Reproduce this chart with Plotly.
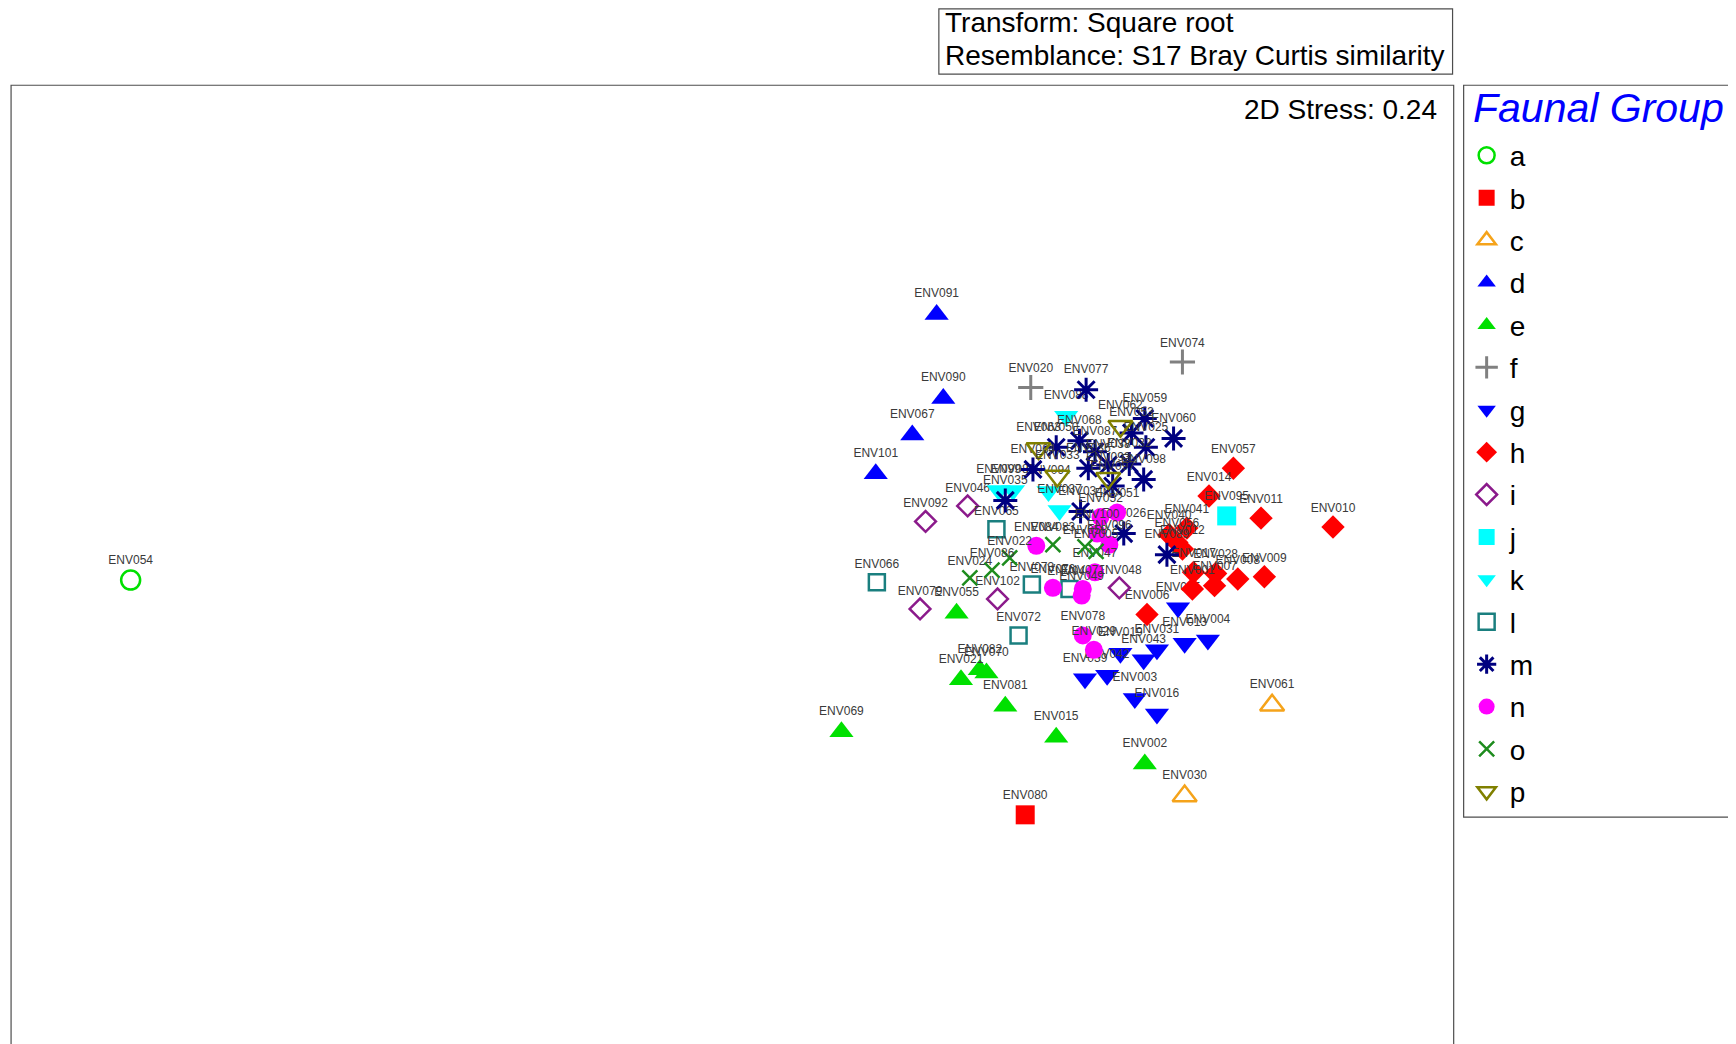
import plotly.graph_objects as go

# The page body adds an 8 px margin, so the figure is 8 px smaller than the window
W, H = 1728, 1036

# ---- data: nMDS coordinates (arbitrary MDS units) ----
sample_id = [
    "ENV054",
    "ENV080",
    "ENV061", "ENV030",
    "ENV091", "ENV090", "ENV067", "ENV101",
    "ENV069", "ENV015", "ENV002", "ENV081", "ENV021", "ENV082", "ENV070", "ENV055",
    "ENV020", "ENV074",
    "ENV045", "ENV013", "ENV004", "ENV031", "ENV043", "ENV003", "ENV016", "ENV039", "ENV042", "ENV019",
    "ENV057", "ENV014", "ENV011", "ENV010", "ENV041", "ENV040", "ENV056", "ENV012", "ENV028", "ENV008",
    "ENV009", "ENV017", "ENV001", "ENV007", "ENV006",
    "ENV092", "ENV046", "ENV079", "ENV102", "ENV048",
    "ENV095",
    "ENV099", "ENV085", "ENV088", "ENV094", "ENV037",
    "ENV066", "ENV065", "ENV072", "ENV073", "ENV044",
    "ENV077", "ENV059", "ENV060", "ENV053", "ENV025", "ENV050", "ENV068", "ENV087", "ENV032", "ENV038",
    "ENV036", "ENV098", "ENV064", "ENV097", "ENV035", "ENV034", "ENV026", "ENV089",
    "ENV084", "ENV076", "ENV071", "ENV047", "ENV100", "ENV096", "ENV052", "ENV051", "ENV049", "ENV078", "ENV029",
    "ENV024", "ENV086", "ENV022", "ENV083", "ENV058", "ENV005",
    "ENV063", "ENV033", "ENV062", "ENV093",
]
faunal_group = (
    ["a"] + ["b"] + ["c"] * 2 + ["d"] * 4 + ["e"] * 8 + ["f"] * 2 + ["g"] * 10 + ["h"] * 15
    + ["i"] * 5 + ["j"] + ["k"] * 5 + ["l"] * 5 + ["m"] * 18 + ["n"] * 11 + ["o"] * 6 + ["p"] * 4
)
mds1 = [
    1.18,
    9.26,
    11.49, 10.70,
    8.46, 8.52, 8.24, 7.91,
    7.60, 9.54, 10.34, 9.08, 8.68, 8.85, 8.91, 8.64,
    9.31, 10.68,
    10.64, 10.70, 10.91, 10.45, 10.33, 10.25, 10.45, 9.80, 10.00, 10.12,
    11.14, 10.92, 11.39, 12.04, 10.72, 10.56, 10.63, 10.68, 10.98, 11.18,
    11.42, 10.78, 10.77, 10.97, 10.36,
    8.36, 8.74, 8.31, 9.01, 10.11,
    11.08,
    9.02, 9.15, 9.63, 9.47, 9.57,
    7.92, 9.00, 9.20, 9.32, 9.66,
    9.81, 10.34, 10.60, 10.22, 10.35, 9.54, 9.75, 9.89, 10.20, 10.01,
    9.83, 10.33, 9.33, 10.05, 9.08, 9.76, 10.15, 10.54,
    9.36, 9.51, 9.78, 9.89, 9.91, 10.02, 9.94, 10.09, 9.77, 9.78, 9.88,
    8.76, 8.96, 9.12, 9.51, 9.80, 9.90,
    9.38, 9.55, 10.12, 10.01,
]
mds2 = [
    -5.24,
    -7.36,
    -6.37, -7.19,
    -2.84, -3.60, -3.93, -4.28,
    -6.61, -6.66, -6.90, -6.38, -6.14, -6.05, -6.08, -5.54,
    -3.50, -3.27,
    -5.49, -5.81, -5.78, -5.87, -5.96, -6.31, -6.45, -6.13, -6.10, -5.90,
    -4.23, -4.48, -4.68, -4.76, -4.77, -4.83, -4.90, -4.96, -5.18, -5.23,
    -5.21, -5.17, -5.32, -5.29, -5.55,
    -4.71, -4.57, -5.50, -5.41, -5.31,
    -4.66,
    -4.43, -4.43, -3.76, -4.44, -4.61,
    -5.26, -4.78, -5.74, -5.28, -5.32,
    -3.52, -3.78, -3.96, -3.91, -4.04, -4.04, -3.98, -4.08, -4.19, -4.20,
    -4.23, -4.33, -4.24, -4.39, -4.52, -4.62, -4.82, -5.01,
    -4.93, -5.31, -5.32, -5.17, -4.82, -4.92, -4.67, -4.63, -5.38, -5.74, -5.87,
    -5.22, -5.15, -5.04, -4.92, -4.94, -4.98,
    -4.05, -4.30, -3.85, -4.32,
]
group_order = list("abcdefghijklmnop")
legend_title = "Faunal Group"
stress_text = "2D Stress: 0.24"
info_lines = ["Transform: Square root", "Resemblance: S17 Bray Curtis similarity"]

# ---- styles ----
styles = {
    "a": dict(symbol="circle-open", color="#00e000", size=19, lw=2.5),
    "b": dict(symbol="square", color="#ff0000", size=19, lw=0),
    "c": dict(symbol="triangle-up-open", color="#f5a31a", size=21, lw=2.5),
    "d": dict(symbol="triangle-up", color="#0000ff", size=21, lw=0),
    "e": dict(symbol="triangle-up", color="#00e000", size=21, lw=0),
    "f": dict(symbol="cross-thin-open", color="#808080", size=18, lw=3),
    "g": dict(symbol="triangle-down", color="#0000ff", size=21, lw=0),
    "h": dict(symbol="diamond", color="#ff0000", size=18, lw=0),
    "i": dict(symbol="diamond-open", color="#8b1a8b", size=16, lw=2.5),
    "j": dict(symbol="square", color="#00ffff", size=19, lw=0),
    "k": dict(symbol="triangle-down", color="#00ffff", size=21, lw=0),
    "l": dict(symbol="square-open", color="#1a7f7f", size=16, lw=2.5),
    "m": dict(symbol="asterisk-open", color="#000080", size=20, lw=3),
    "n": dict(symbol="circle", color="#ff00ff", size=18, lw=0),
    "o": dict(symbol="x-thin-open", color="#1e8c1e", size=15, lw=2.5),
    "p": dict(symbol="triangle-down-open", color="#808000", size=21, lw=2.5),
}
FONT = "Liberation Sans, Arial, sans-serif"
FRAME = "#4d4d4d"

# reference picture (shrunk) spans 1568 x 943; body margin = 8 px full = 7.23 shrunk px
OFF = 8 * 1568.0 / 1736.0
XR = [OFF / 100.0, 15.68]
YR = [-9.43, -OFF / 100.0]

fig = go.Figure()
for g in group_order:
    idx = [i for i, gg in enumerate(faunal_group) if gg == g]
    st = styles[g]
    fig.add_trace(go.Scatter(
        x=[mds1[i] for i in idx],
        y=[mds2[i] for i in idx],
        text=[sample_id[i] for i in idx],
        mode="markers+text",
        textposition="top center",
        textfont=dict(family=FONT, size=12, color="#3a3a3a"),
        name=g,
        legendgroup=g,
        marker=dict(symbol=st["symbol"], size=st["size"], color=st["color"],
                    line=dict(color=st["color"], width=st["lw"])),
        cliponaxis=False,
        hoverinfo="text",
    ))

# helpers: shrunk-reference pixel -> paper coordinates
def fx(r):
    return (r - OFF) / (1568.0 - OFF)

def fy(r):
    return 1 - (r - OFF) / (943.0 - OFF)

shapes = [
    # plot frame (bottom edge lies below the visible page)
    dict(type="rect", xref="paper", yref="paper", x0=fx(10), x1=fx(1313), y0=-0.05, y1=fy(77),
         line=dict(color=FRAME, width=1.2), fillcolor="rgba(0,0,0,0)", layer="below"),
    # info box
    dict(type="rect", xref="paper", yref="paper", x0=fx(848), x1=fx(1312), y0=fy(67), y1=fy(OFF + 0.8),
         line=dict(color=FRAME, width=1.2), fillcolor="white"),
    # legend box
    dict(type="rect", xref="paper", yref="paper", x0=fx(1322), x1=fx(1566.5), y0=fy(738), y1=fy(77),
         line=dict(color=FRAME, width=1.2), fillcolor="rgba(0,0,0,0)", layer="below"),
]
annotations = [
    dict(xref="paper", yref="paper", x=fx(852), y=fy(20), xanchor="left", yanchor="middle",
         text=info_lines[0], showarrow=False, font=dict(family=FONT, size=28, color="black")),
    dict(xref="paper", yref="paper", x=fx(852), y=fy(50), xanchor="left", yanchor="middle",
         text=info_lines[1], showarrow=False, font=dict(family=FONT, size=28, color="black")),
    dict(xref="paper", yref="paper", x=fx(1300), y=fy(99), xanchor="right", yanchor="middle",
         text=stress_text, showarrow=False, font=dict(family=FONT, size=28, color="black")),
    dict(xref="paper", yref="paper", x=fx(1329), y=fy(98), xanchor="left", yanchor="middle",
         text=legend_title, showarrow=False,
         font=dict(family=FONT, size=41, color="#0000ff", style="italic")),
]

fig.update_layout(
    width=W, height=H,
    margin=dict(l=0, r=0, t=0, b=0),
    paper_bgcolor="white", plot_bgcolor="white",
    xaxis=dict(range=XR, domain=[0, 1], visible=False, fixedrange=True),
    yaxis=dict(range=YR, domain=[0, 1], visible=False, fixedrange=True),
    shapes=shapes,
    annotations=annotations,
    showlegend=True,
    legend=dict(
        x=fx(1322), y=fy(118), xanchor="left", yanchor="top",
        bgcolor="rgba(0,0,0,0)", borderwidth=0,
        font=dict(family=FONT, size=28, color="black"),
        traceorder="grouped", tracegroupgap=3, itemwidth=36,
        itemclick=False, itemdoubleclick=False,
    ),
)

fig.write_html("out.html")
